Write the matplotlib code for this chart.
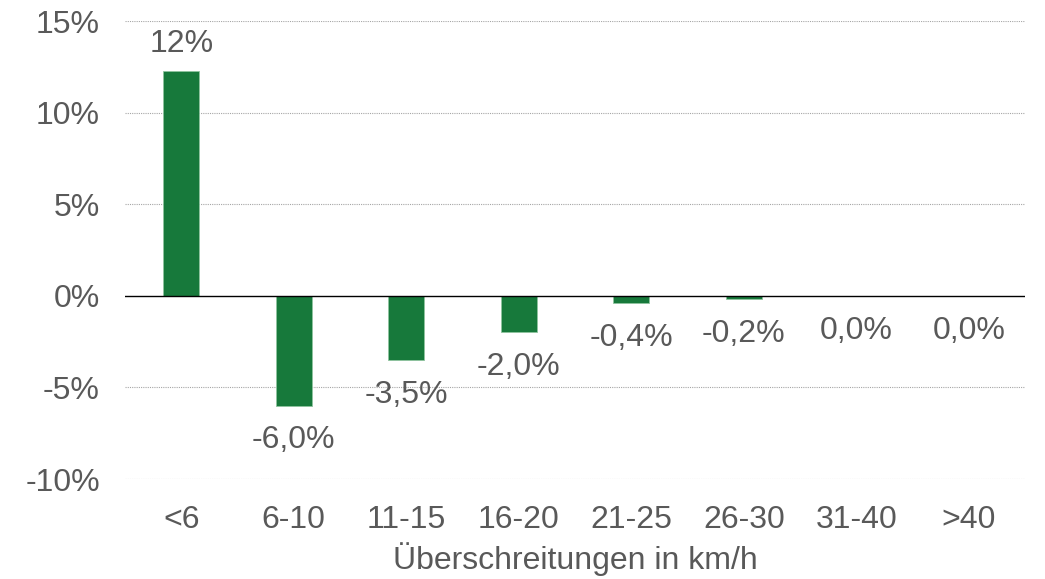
import numpy as np
import matplotlib.pyplot as plt

# Werte aus der Grafik
kategorien = ['<6', '6-10', '11-15', '16-20', '21-25', '26-30', '31-40', '>40']
werte = [12.25, -6.0, -3.5, -2.0, -0.4, -0.2, 0.0, 0.0]
beschriftung = ['12%', '-6,0%', '-3,5%', '-2,0%', '-0,4%', '-0,2%', '0,0%', '0,0%']
y_ticks = [-10, -5, 0, 5, 10, 15]

plt.rcParams['font.family'] = ['Liberation Sans', 'DejaVu Sans']
grau = '#595959'
fs = 23

fig = plt.figure(figsize=(10.45, 5.79), dpi=100)
ax = fig.add_axes([0.1196, 0.1727, 0.8614, 0.791])

x = np.arange(len(kategorien))
ax.bar(x, werte, width=0.32, color='#17793b', edgecolor='#8fc49f', linewidth=0.6, zorder=3)

for xi, w, txt in zip(x, werte, beschriftung):
    if w > 0:
        ax.annotate(txt, (xi, w), xytext=(0, 20), textcoords='offset points',
                    ha='center', va='center', fontsize=fs, color=grau)
    else:
        ax.annotate(txt, (xi, w), xytext=(0, -25), textcoords='offset points',
                    ha='center', va='center', fontsize=fs, color=grau)

ax.set_xlim(-0.5, len(kategorien) - 0.5)
ax.set_ylim(-10, 15)
ax.set_yticks(y_ticks)
ax.set_yticklabels([f'{t}%' for t in y_ticks])
ax.set_xticks(x)
ax.set_xticklabels(kategorien)
ax.tick_params(axis='both', length=0, labelsize=fs, labelcolor=grau)
ax.tick_params(axis='x', pad=19)
ax.tick_params(axis='y', pad=18)

for t in y_ticks:
    if t != 0:
        ax.axhline(t, color='#a6a6a6', linestyle=(0, (1, 1)), linewidth=0.8, zorder=1)
ax.axhline(0, color='black', linewidth=1.0, zorder=4)

for s in ax.spines.values():
    s.set_visible(False)

ax.set_xlabel('Überschreitungen in km/h', fontsize=fs, color=grau, labelpad=5)

fig.savefig('out.png', dpi=100)
